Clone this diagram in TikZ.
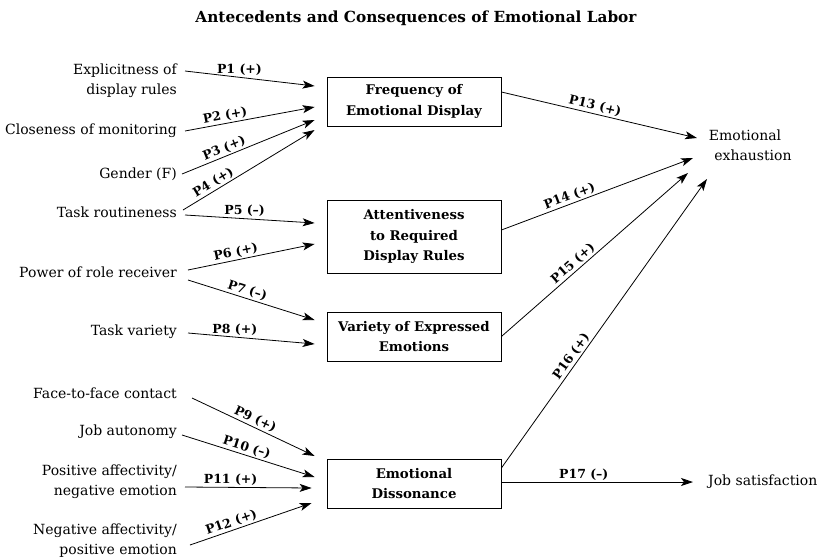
\documentclass[tikz,border=0pt]{standalone}
\usepackage{fontspec}
\setmainfont{DejaVu Serif}
\usetikzlibrary{arrows.meta}
\begin{document}
\begin{tikzpicture}[x=1pt,y=1pt,
  lbl/.style={font=\fontsize{14}{20}\selectfont, inner sep=0pt, anchor=east, align=right},
  box/.style={draw, line width=0.8pt, minimum width=174pt, inner sep=0pt, align=center, font=\bfseries\fontsize{13.3}{20.5}\selectfont},
  arr/.style={line width=0.8pt, -{Stealth[length=12pt,width=8pt,inset=3pt]}},
  pl/.style={font=\bfseries\fontsize{12.5}{14}\selectfont, inner sep=1.5pt},
  outn/.style={font=\fontsize{14}{20}\selectfont, inner sep=0pt}]
\useasboundingbox (0,0) rectangle (831,-558);
\node[font=\bfseries\fontsize{15.3}{18}\selectfont] (title) at (416,-18) {Antecedents and Consequences of Emotional Labor};
% left antecedents
\node[lbl] (expl) at (177,-81) {Explicitness of\\display rules};
\node[lbl] (clos) at (177,-131) {Closeness of monitoring};
\node[lbl] (gend) at (177,-174) {Gender (F)};
\node[lbl] (rout) at (177,-212) {Task routineness};
\node[lbl] (powr) at (177,-272) {Power of role receiver};
\node[lbl] (vari) at (177,-332) {Task variety};
\node[lbl] (face) at (177,-393) {Face-to-face contact};
\node[lbl] (auto) at (177,-432) {Job autonomy};
\node[lbl] (posa) at (177,-482) {Positive affectivity/\\negative emotion};
\node[lbl] (nega) at (177,-541) {Negative affectivity/\\positive emotion};
% boxes
\node[box, minimum height=49pt] (box1) at (414,-101.5) {Frequency of\\Emotional Display};
\node[box, minimum height=73pt] (box2) at (414,-236.5) {Attentiveness\\to Required\\Display Rules};
\node[box, minimum height=49pt] (box3) at (414,-336.5) {Variety of Expressed\\Emotions};
\node[box, minimum height=49pt] (box4) at (414,-483.5) {Emotional\\Dissonance};
% outcomes
\node[outn, align=center] (exha) at (745,-145) {Emotional\\\hspace*{16pt}exhaustion};
\node[outn, anchor=west] (jobs) at (708,-482) {Job satisfaction};
% antecedent arrows
\draw[arr] ([xshift=8,yshift=10]expl.east) -- node[pl, above, pos=0.42] {P1 (+)} ([xshift=-12,yshift=15.5]box1.west);
\draw[arr] ([xshift=8]clos.east) -- node[pl, above, sloped, pos=0.32] {P2 (+)} ([xshift=-12,yshift=-5.5]box1.west);
\draw[arr] ([xshift=5]gend.east) -- node[pl, above, sloped, pos=0.34] {P3 (+)} ([xshift=-12,yshift=-18.5]box1.west);
\draw[arr] ([xshift=6,yshift=2]rout.east) -- node[pl, above, sloped, pos=0.26] {P4 (+)} ([xshift=-12,yshift=-28.5]box1.west);
\draw[arr] ([xshift=8,yshift=-3]rout.east) -- node[pl, above, pos=0.46] {P5 (--)} ([xshift=-12,yshift=13.5]box2.west);
\draw[arr] ([xshift=11,yshift=2]powr.east) -- node[pl, above, sloped, pos=0.39] {P6 (+)} ([xshift=-12,yshift=-7.5]box2.west);
\draw[arr] ([xshift=11,yshift=-8]powr.east) -- node[pl, above, sloped, pos=0.45] {P7 (--)} ([xshift=-12,yshift=16.5]box3.west);
\draw[arr] ([xshift=11,yshift=-1]vari.east) -- node[pl, above, pos=0.37] {P8 (+)} ([xshift=-12,yshift=-7.5]box3.west);
\draw[arr] ([xshift=15,yshift=-5]face.east) -- node[pl, above, sloped, pos=0.49] {P9 (+)} ([xshift=-12,yshift=27.5]box4.west);
\draw[arr] ([xshift=5,yshift=-3]auto.east) -- node[pl, above, sloped, pos=0.47] {P10 (--)} ([xshift=-12,yshift=6.5]box4.west);
\draw[arr] ([xshift=8,yshift=-5]posa.east) -- node[pl, above, pos=0.36] {P11 (+)} ([xshift=-15,yshift=-4.5]box4.west);
\draw[arr] ([xshift=13,yshift=-4]nega.east) -- node[pl, above, sloped, pos=0.36] {P12 (+)} ([xshift=-15,yshift=-19.5]box4.west);
% consequence arrows
\draw[arr] ([yshift=9.5]box1.east) -- node[pl, above, sloped, pos=0.47] {P13 (+)} ([xshift=-48,yshift=7]exha.center);
\draw[arr] ([yshift=6.5]box2.east) -- node[pl, above, sloped, pos=0.37] {P14 (+)} ([xshift=-52,yshift=-13]exha.center);
\draw[arr] (box3.east) -- node[pl, above, sloped, pos=0.41] {P15 (+)} ([xshift=-57,yshift=-28]exha.center);
\draw[arr] ([yshift=15.5]box4.east) -- node[pl, above, sloped, pos=0.37] {P16 (+)} ([xshift=-38,yshift=-34]exha.center);
\draw[arr] ([yshift=1.5]box4.east) -- node[pl, above, pos=0.43] {P17 (--)} ([xshift=-15]jobs.west);
\end{tikzpicture}
\end{document}
